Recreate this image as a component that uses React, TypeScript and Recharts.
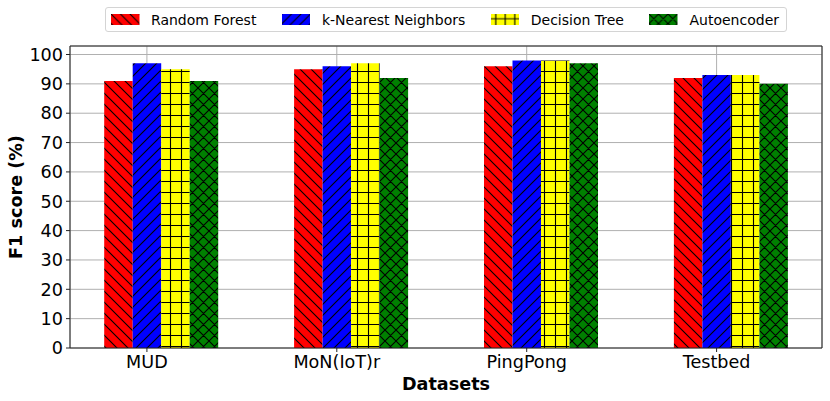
import React from 'react';
import { BarChart, Bar, XAxis, YAxis, CartesianGrid, ReferenceLine, Label } from 'recharts';

const categories = ['MUD', 'MoN(IoT)r', 'PingPong', 'Testbed'];
const randomForest = [91, 95, 96, 92];
const kNearest = [97, 96, 98, 93];
const decisionTree = [95, 97, 98, 93];
const autoencoder = [91, 92, 97, 90];
const yTicks = [0, 10, 20, 30, 40, 50, 60, 70, 80, 90, 100];
const xTicks = [0, 1, 2, 3];

const series = [
  { key: 'rf', name: 'Random Forest', color: '#ff0000', hatch: 'back' },
  { key: 'knn', name: 'k-Nearest Neighbors', color: '#0000ff', hatch: 'fwd' },
  { key: 'dt', name: 'Decision Tree', color: '#ffff00', hatch: 'plus' },
  { key: 'ae', name: 'Autoencoder', color: '#008000', hatch: 'cross' },
];

const data = categories.map((c, i) => ({
  x: i + 0.075,
  name: c,
  rf: randomForest[i],
  knn: kNearest[i],
  dt: decisionTree[i],
  ae: autoencoder[i],
}));

const FONT = '"DejaVu Sans", sans-serif';
const S = 11;

function hatchPath(kind: string, s: number) {
  const back = `M0,0 L${s},${s} M${s - 1},-1 L${s + 1},1 M-1,${s - 1} L1,${s + 1}`;
  const fwd = `M0,${s} L${s},0 M-1,1 L1,-1 M${s - 1},${s + 1} L${s + 1},${s - 1}`;
  if (kind === 'back') return back;
  if (kind === 'fwd') return fwd;
  if (kind === 'plus') return `M0,${s / 2} L${s},${s / 2} M${s / 2},0 L${s / 2},${s}`;
  return back + ' ' + fwd;
}

function Pattern({ id, color, hatch, s }: { id: string; color: string; hatch: string; s: number }) {
  return (
    <pattern id={id} patternUnits="userSpaceOnUse" width={s} height={s}>
      <rect x={0} y={0} width={s} height={s} fill={color} />
      <path d={hatchPath(hatch, s)} stroke="#000" strokeWidth={1.1} fill="none" />
    </pattern>
  );
}

function LegendBox() {
  return (
    <div
      style={{
        position: 'absolute',
        left: 105,
        top: 7,
        width: 682,
        height: 25,
        boxSizing: 'border-box',
        border: '1px solid #d4d4d4',
        borderRadius: 3,
        background: 'rgba(255,255,255,0.8)',
        display: 'flex',
        alignItems: 'center',
        paddingLeft: 5,
        fontFamily: FONT,
        fontSize: 14,
        color: '#000',
        whiteSpace: 'nowrap',
      }}
    >
      {series.map((s, i) => (
        <div key={s.key} style={{ display: 'flex', alignItems: 'center', marginRight: i < series.length - 1 ? 25.5 : 0 }}>
          <svg width={28.5} height={11} style={{ marginRight: 11.5, display: 'block' }}>
            <defs>
              <Pattern id={`leg-${s.key}`} color={s.color} hatch={s.hatch} s={9.5} />
            </defs>
            <rect x={0} y={0} width={28.5} height={11} fill={`url(#leg-${s.key})`} />
          </svg>
          <span>{s.name}</span>
        </div>
      ))}
    </div>
  );
}

export default function App() {
  return (
    <div style={{ position: 'absolute', left: 0, top: 0, width: 830, height: 401, fontFamily: FONT, background: '#fff' }}>
      <BarChart
        width={830}
        height={401}
        data={data}
        margin={{ top: 46, right: 8, bottom: 0, left: 0 }}
        barGap={0}
        style={{ fontFamily: FONT }}
      >
        <defs>
          {series.map((s) => (
            <Pattern key={s.key} id={`pat-${s.key}`} color={s.color} hatch={s.hatch} s={S} />
          ))}
        </defs>
        <XAxis
          dataKey="x"
          type="number"
          domain={[-0.405, 3.555]}
          allowDataOverflow
          ticks={xTicks}
          interval={0}
          tickFormatter={(v: number) => categories[v] ?? ''}
          height={53}
          tickSize={4}
          tickMargin={3.5}
          tick={{ fill: '#000', fontSize: 17.6, fontFamily: FONT }}
          axisLine={{ stroke: '#222', strokeWidth: 1 }}
          tickLine={{ stroke: '#222', strokeWidth: 1 }}
        >
          <Label
            value="Datasets"
            position="insideBottom"
            offset={11}
            style={{ fontWeight: 'bold', fontSize: 17.6, fill: '#000', fontFamily: FONT }}
          />
        </XAxis>
        <YAxis
          type="number"
          domain={[0, 102.9]}
          allowDataOverflow
          ticks={yTicks}
          interval={0}
          width={70}
          tickSize={4}
          tickMargin={3}
          tick={{ fill: '#000', fontSize: 17.6, fontFamily: FONT }}
          axisLine={{ stroke: '#222', strokeWidth: 1 }}
          tickLine={{ stroke: '#222', strokeWidth: 1 }}
        >
          <Label
            value="F1 score (%)"
            angle={-90}
            position="insideLeft"
            offset={16}
            style={{ fontWeight: 'bold', fontSize: 17.6, fill: '#000', fontFamily: FONT, textAnchor: 'middle' }}
          />
        </YAxis>
        {series.map((s) => (
          <Bar
            key={s.key}
            dataKey={s.key}
            name={s.name}
            fill={`url(#pat-${s.key})`}
            barSize={28.5}
            isAnimationActive={false}
          />
        ))}
        <CartesianGrid stroke="#b0b0b0" strokeWidth={1} vertical horizontal />
        <ReferenceLine y={102.9} stroke="#222" strokeWidth={1} ifOverflow="visible" />
        <ReferenceLine x={3.555} stroke="#222" strokeWidth={1} ifOverflow="visible" />
      </BarChart>
      <LegendBox />
    </div>
  );
}
